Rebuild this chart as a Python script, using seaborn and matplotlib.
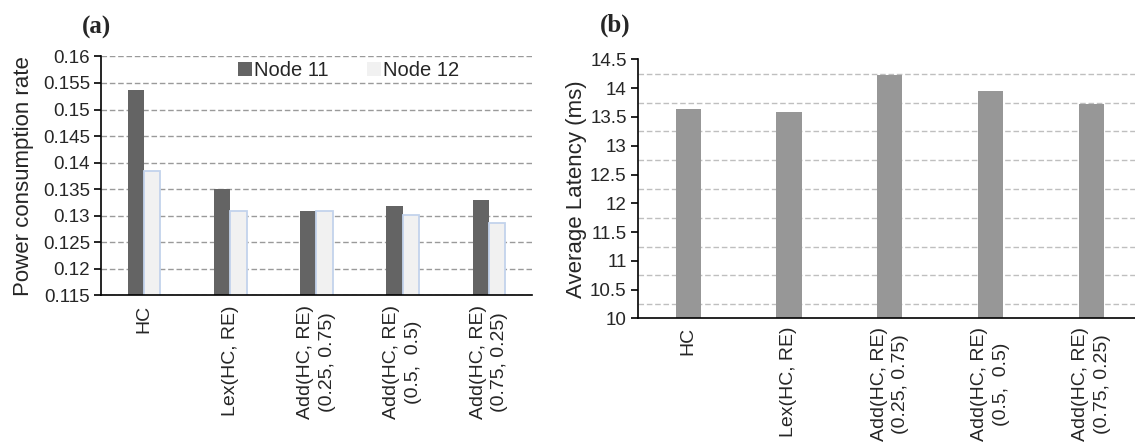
import numpy as np
import pandas as pd
import seaborn as sns
import matplotlib.pyplot as plt

# Data
categories = ["HC", "Lex(HC, RE)", "Add(HC, RE)\n(0.25, 0.75)",
              "Add(HC, RE)\n(0.5,  0.5)", "Add(HC, RE)\n(0.75, 0.25)"]
node11 = [0.1536, 0.1350, 0.1308, 0.1319, 0.1329]
node12 = [0.1384, 0.1308, 0.1308, 0.1301, 0.1286]
latency = [13.63, 13.59, 14.23, 13.95, 13.72]

power_ticks = [0.115, 0.12, 0.125, 0.13, 0.135, 0.14, 0.145, 0.15, 0.155, 0.16]
latency_ticks = [10, 10.5, 11, 11.5, 12, 12.5, 13, 13.5, 14, 14.5]
latency_grid = [10.25, 10.75, 11.25, 11.75, 12.25, 12.75, 13.25, 13.75, 14.25]

sns.set_style("white")
plt.rcParams['font.family'] = ['Liberation Sans', 'DejaVu Sans']

df_power = pd.DataFrame({
    "category": categories * 2,
    "rate": node11 + node12,
    "node": ["Node 11"] * 5 + ["Node 12"] * 5,
})
df_lat = pd.DataFrame({"category": categories, "latency": latency})

fig = plt.figure(figsize=(11.35, 4.44), dpi=100)
ax1 = fig.add_axes([0.0890, 0.3347, 0.3797, 0.5383])
ax2 = fig.add_axes([0.5619, 0.2827, 0.4441, 0.5836])

# Panel (a)
sns.barplot(data=df_power, x="category", y="rate", hue="node",
            palette=["#646464", "#f1f1f1"], width=0.38, saturation=1,
            linewidth=0, ax=ax1)
for bar in ax1.containers[1]:
    bar.set_edgecolor("#c3d3ec")
    bar.set_linewidth(1.3)
ax1.set_ylim(0.115, 0.16)
ax1.set_yticks(power_ticks)
ax1.set_yticklabels([f"{t:g}" for t in power_ticks], fontsize=13.5)
ax1.yaxis.grid(True, linestyle=(0, (4, 2)), color="#9a9a9a", linewidth=1)
ax1.set_axisbelow(True)
ax1.set_ylabel("Power consumption rate", fontsize=16, labelpad=6)
ax1.set_xlabel("")
ax1.legend(loc="center", bbox_to_anchor=(0.575, 0.942), ncol=2, frameon=False,
           fontsize=14.5, handlelength=0.7, handleheight=0.7,
           handletextpad=0.1, columnspacing=1.9, borderpad=0)
ax1.text(-0.01, 1.12, "(a)", transform=ax1.transAxes, ha="center", va="center",
         fontsize=18, fontweight="bold", family="Liberation Serif")

# Panel (b)
sns.barplot(data=df_lat, x="category", y="latency", color="#979797",
            width=0.25, saturation=1, linewidth=0, ax=ax2)
ax2.set_ylim(10, 14.5)
ax2.set_yticks(latency_ticks)
ax2.set_yticklabels([f"{t:g}" for t in latency_ticks], fontsize=13.5)
ax2.set_yticks(latency_grid, minor=True)
ax2.tick_params(axis="y", which="minor", length=0)
ax2.yaxis.grid(True, which="minor", linestyle=(0, (4, 2)), color="#bfbfbf", linewidth=1)
ax2.yaxis.grid(False, which="major")
ax2.set_axisbelow(True)
ax2.set_ylabel("Average Latency (ms)", fontsize=16, labelpad=2)
ax2.set_xlabel("")
ax2.text(-0.045, 1.13, "(b)", transform=ax2.transAxes, ha="center", va="center",
         fontsize=18, fontweight="bold", family="Liberation Serif")

for ax, size, pad in ((ax1, 14, 7), (ax2, 14, 6)):
    sns.despine(ax=ax)
    ax.spines["left"].set_color("black")
    ax.spines["bottom"].set_color("black")
    ax.spines["left"].set_linewidth(1.2)
    ax.spines["bottom"].set_linewidth(1.2)
    ax.tick_params(axis="y", which="major", direction="out", length=5, width=1.2,
                   color="black", left=True, pad=3)
    ax.tick_params(axis="x", length=0, pad=pad)
    ax.set_xticks(range(len(categories)))
    ax.set_xticklabels(categories, rotation=90, fontsize=size, ha="center",
                       va="top", multialignment="center", linespacing=1.35)

fig.savefig("out.png", dpi=100)
